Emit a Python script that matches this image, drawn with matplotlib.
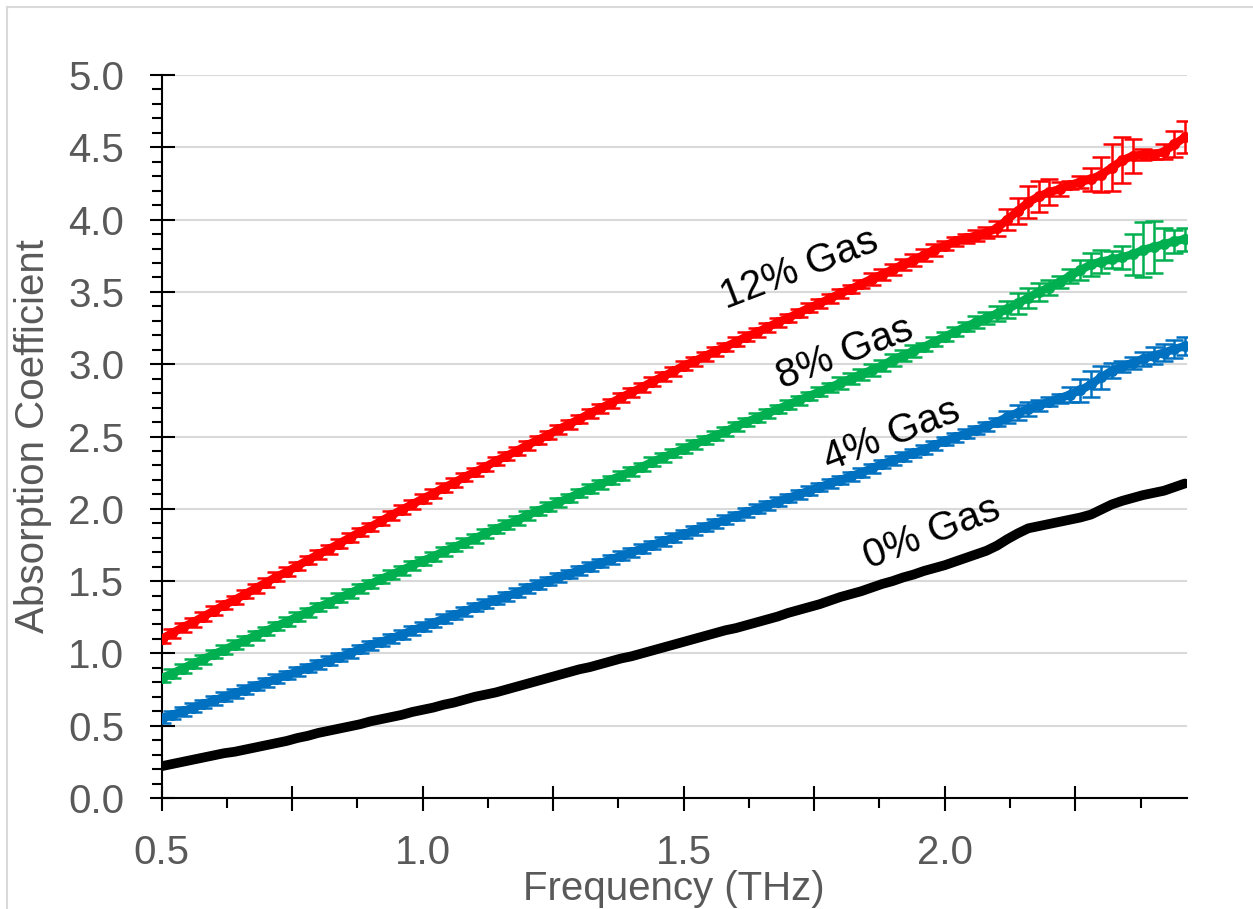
import matplotlib.pyplot as plt
import numpy as np
from matplotlib.lines import Line2D

plt.rcParams["font.family"] = ["Liberation Sans", "DejaVu Sans"]

# frequency grid (THz), one point every 0.02 THz
freq = np.round(np.linspace(0.50, 2.46, 99), 2)

# absorption coefficient, 0 % gas
gas_0 = [
    0.22, 0.235, 0.25, 0.265, 0.28, 0.295, 0.31, 0.32, 0.335, 0.35,
    0.365, 0.38, 0.395, 0.415, 0.43, 0.45, 0.465, 0.48, 0.495, 0.51,
    0.53, 0.545, 0.56, 0.575, 0.595, 0.61, 0.625, 0.645, 0.66, 0.68,
    0.70, 0.715, 0.73, 0.75, 0.77, 0.79, 0.81, 0.83, 0.85, 0.87,
    0.89, 0.905, 0.925, 0.945, 0.965, 0.98, 1.00, 1.02, 1.04, 1.06,
    1.08, 1.10, 1.12, 1.14, 1.16, 1.175, 1.195, 1.215, 1.235, 1.255,
    1.28, 1.30, 1.32, 1.34, 1.365, 1.39, 1.41, 1.43, 1.455, 1.48,
    1.50, 1.525, 1.545, 1.57, 1.59, 1.61, 1.635, 1.66, 1.685, 1.71,
    1.745, 1.79, 1.83, 1.865, 1.88, 1.895, 1.91, 1.925, 1.94, 1.96,
    1.995, 2.03, 2.055, 2.075, 2.095, 2.11, 2.125, 2.15, 2.175,
]

# 4 % gas
gas_4 = [
    0.55, 0.575, 0.60, 0.625, 0.65, 0.675, 0.70, 0.725, 0.75, 0.775,
    0.80, 0.825, 0.85, 0.875, 0.90, 0.925, 0.95, 0.975, 1.00, 1.03,
    1.055, 1.08, 1.105, 1.13, 1.16, 1.185, 1.21, 1.24, 1.265, 1.29,
    1.32, 1.345, 1.37, 1.395, 1.42, 1.45, 1.475, 1.50, 1.525, 1.55,
    1.575, 1.60, 1.625, 1.65, 1.675, 1.70, 1.725, 1.75, 1.775, 1.80,
    1.825, 1.85, 1.875, 1.90, 1.925, 1.95, 1.975, 2.00, 2.025, 2.05,
    2.075, 2.10, 2.125, 2.15, 2.175, 2.20, 2.225, 2.25, 2.28, 2.31,
    2.335, 2.36, 2.385, 2.41, 2.44, 2.47, 2.495, 2.52, 2.545, 2.57,
    2.60, 2.635, 2.665, 2.69, 2.715, 2.74, 2.765, 2.79, 2.82, 2.86,
    2.91, 2.955, 2.985, 3.01, 3.035, 3.06, 3.08, 3.105, 3.125,
]
gas_4_err = [
    0.03, 0.03, 0.03, 0.03, 0.03, 0.03, 0.03, 0.03, 0.03, 0.03,
    0.03, 0.03, 0.03, 0.03, 0.03, 0.03, 0.03, 0.03, 0.03, 0.03,
    0.03, 0.03, 0.03, 0.03, 0.03, 0.03, 0.03, 0.03, 0.03, 0.03,
    0.03, 0.03, 0.03, 0.03, 0.03, 0.03, 0.03, 0.03, 0.03, 0.03,
    0.03, 0.03, 0.03, 0.03, 0.03, 0.03, 0.03, 0.03, 0.03, 0.03,
    0.03, 0.03, 0.03, 0.03, 0.03, 0.03, 0.03, 0.03, 0.03, 0.03,
    0.03, 0.03, 0.03, 0.03, 0.03, 0.03, 0.03, 0.03, 0.03, 0.03,
    0.03, 0.03, 0.03, 0.03, 0.03, 0.03, 0.03, 0.03, 0.03, 0.03,
    0.03, 0.04, 0.05, 0.05, 0.04, 0.03, 0.03, 0.05, 0.08, 0.09,
    0.08, 0.05, 0.04, 0.04, 0.05, 0.06, 0.06, 0.06, 0.06,
]

# 8 % gas
gas_8 = [
    0.83, 0.86, 0.895, 0.93, 0.96, 0.995, 1.025, 1.06, 1.09, 1.125,
    1.155, 1.19, 1.22, 1.255, 1.285, 1.32, 1.35, 1.385, 1.415, 1.45,
    1.48, 1.515, 1.545, 1.575, 1.61, 1.64, 1.67, 1.705, 1.735, 1.765,
    1.795, 1.83, 1.86, 1.89, 1.92, 1.955, 1.985, 2.015, 2.045, 2.075,
    2.11, 2.14, 2.17, 2.20, 2.23, 2.26, 2.29, 2.325, 2.355, 2.385,
    2.415, 2.445, 2.475, 2.505, 2.535, 2.57, 2.60, 2.63, 2.66, 2.69,
    2.72, 2.75, 2.78, 2.81, 2.84, 2.87, 2.90, 2.93, 2.96, 2.99,
    3.03, 3.06, 3.09, 3.12, 3.155, 3.19, 3.225, 3.26, 3.29, 3.32,
    3.35, 3.38, 3.42, 3.46, 3.50, 3.53, 3.57, 3.61, 3.65, 3.69,
    3.71, 3.725, 3.74, 3.76, 3.79, 3.81, 3.83, 3.85, 3.865,
]
gas_8_err = [
    0.03, 0.03, 0.03, 0.03, 0.03, 0.03, 0.03, 0.03, 0.03, 0.03,
    0.03, 0.03, 0.03, 0.03, 0.03, 0.03, 0.03, 0.03, 0.03, 0.03,
    0.03, 0.03, 0.03, 0.03, 0.03, 0.03, 0.03, 0.03, 0.03, 0.03,
    0.03, 0.03, 0.03, 0.03, 0.03, 0.03, 0.03, 0.03, 0.03, 0.03,
    0.03, 0.03, 0.03, 0.03, 0.03, 0.03, 0.03, 0.03, 0.03, 0.03,
    0.03, 0.03, 0.03, 0.03, 0.03, 0.03, 0.03, 0.03, 0.03, 0.03,
    0.03, 0.03, 0.03, 0.03, 0.03, 0.04, 0.04, 0.04, 0.04, 0.04,
    0.04, 0.04, 0.04, 0.03, 0.03, 0.03, 0.03, 0.03, 0.04, 0.04,
    0.05, 0.06, 0.07, 0.07, 0.06, 0.05, 0.04, 0.05, 0.07, 0.08,
    0.08, 0.06, 0.08, 0.14, 0.19, 0.18, 0.11, 0.08, 0.08,
]

# 12 % gas
gas_12 = [
    1.10, 1.14, 1.18, 1.215, 1.255, 1.295, 1.335, 1.37, 1.41, 1.45,
    1.49, 1.53, 1.565, 1.605, 1.645, 1.685, 1.72, 1.76, 1.80, 1.84,
    1.875, 1.915, 1.955, 1.995, 2.03, 2.07, 2.105, 2.145, 2.18, 2.22,
    2.255, 2.29, 2.33, 2.365, 2.40, 2.44, 2.475, 2.51, 2.55, 2.585,
    2.62, 2.66, 2.695, 2.73, 2.77, 2.805, 2.84, 2.88, 2.915, 2.95,
    2.99, 3.02, 3.055, 3.09, 3.12, 3.155, 3.19, 3.22, 3.255, 3.29,
    3.32, 3.355, 3.39, 3.42, 3.455, 3.49, 3.52, 3.555, 3.59, 3.62,
    3.655, 3.69, 3.72, 3.755, 3.79, 3.82, 3.85, 3.87, 3.89, 3.91,
    3.94, 4.00, 4.06, 4.12, 4.16, 4.19, 4.21, 4.24, 4.26, 4.28,
    4.31, 4.36, 4.41, 4.44, 4.45, 4.45, 4.47, 4.52, 4.57,
]
gas_12_err = [
    0.03, 0.03, 0.03, 0.03, 0.03, 0.03, 0.03, 0.03, 0.03, 0.03,
    0.03, 0.03, 0.03, 0.03, 0.03, 0.03, 0.03, 0.03, 0.03, 0.03,
    0.03, 0.03, 0.03, 0.03, 0.03, 0.03, 0.03, 0.03, 0.03, 0.03,
    0.03, 0.03, 0.03, 0.03, 0.03, 0.03, 0.03, 0.03, 0.03, 0.03,
    0.03, 0.03, 0.03, 0.03, 0.03, 0.03, 0.03, 0.03, 0.03, 0.03,
    0.03, 0.03, 0.03, 0.03, 0.03, 0.03, 0.03, 0.03, 0.03, 0.03,
    0.03, 0.03, 0.03, 0.03, 0.03, 0.03, 0.03, 0.03, 0.04, 0.04,
    0.04, 0.04, 0.04, 0.04, 0.04, 0.03, 0.03, 0.03, 0.04, 0.04,
    0.05, 0.07, 0.09, 0.11, 0.11, 0.09, 0.05, 0.03, 0.04, 0.08,
    0.12, 0.16, 0.16, 0.12, 0.04, 0.03, 0.05, 0.09, 0.11,
]

labels = ["0% Gas", "4% Gas", "8% Gas", "12% Gas"]
label_x = [1.976, 1.899, 1.809, 1.722]
label_y = [1.83, 2.51, 3.08, 3.66]

x_major = [0.5, 0.75, 1.0, 1.25, 1.5, 1.75, 2.0, 2.25]
x_major_labels = ["0.5", "", "1.0", "", "1.5", "", "2.0", ""]
x_minor = [0.625, 0.875, 1.125, 1.375, 1.625, 1.875, 2.125, 2.375]
y_major = [0.0, 0.5, 1.0, 1.5, 2.0, 2.5, 3.0, 3.5, 4.0, 4.5, 5.0]

grey_text = "#595959"
grid_col = "#D9D9D9"

fig = plt.figure(figsize=(12.53, 9.09), dpi=100)
ax = fig.add_axes((0.129, 0.1221, 0.8183, 0.7954))

ax.plot(freq, gas_0, color="k", lw=7, solid_capstyle="round", zorder=3)

series = [
    (gas_4, gas_4_err, "#0070C0"),
    (gas_8, gas_8_err, "#00B050"),
    (gas_12, gas_12_err, "#FF0000"),
]
for vals, err, col in series:
    ax.errorbar(
        freq,
        vals,
        yerr=err,
        fmt="o-",
        color=col,
        lw=6,
        ms=7,
        elinewidth=1.8,
        capsize=6.5,
        capthick=1.8,
        zorder=3,
    )

for text, lx, ly in zip(labels, label_x, label_y):
    ax.text(
        lx,
        ly,
        text,
        rotation=21,
        rotation_mode="anchor",
        ha="center",
        va="center",
        fontsize=29,
        color="k",
    )

ax.set_xlim(0.5, 2.464)
ax.set_ylim(0, 5)

ax.set_xticks(x_major, x_major_labels)
ax.set_xticks(x_minor, minor=True)
ax.set_yticks(y_major, [f"{v:.1f}" for v in y_major])
ax.yaxis.set_minor_locator(plt.MultipleLocator(0.1))

ax.tick_params(
    which="major",
    direction="inout",
    length=18,
    width=1.5,
    color="k",
    labelsize=29,
    labelcolor=grey_text,
)
ax.tick_params(axis="x", which="major", pad=17)
ax.tick_params(axis="y", which="major", pad=18)
ax.tick_params(which="minor", direction="out", length=7, width=1.5, color="k")

for side in ["top", "right"]:
    ax.spines[side].set_visible(False)
for side in ["left", "bottom"]:
    ax.spines[side].set_linewidth(1.5)
    ax.spines[side].set_color("k")

ax.grid(axis="y", which="major", color=grid_col, lw=1.5)
ax.set_axisbelow(True)

ax.set_xlabel("Frequency (THz)", fontsize=29, color=grey_text)
ax.set_ylabel("Absorption Coefficient", fontsize=29, color=grey_text)
ax.xaxis.set_label_coords(0.5, -0.1)
ax.yaxis.set_label_coords(-0.107, 0.5)

# thin chart-area frame along the top and left edges
fig.add_artist(Line2D([0.0056, 0.0056], [0.0, 0.9923], transform=fig.transFigure,
                      color=grid_col, lw=1.5))
fig.add_artist(Line2D([0.0056, 1.0], [0.9923, 0.9923], transform=fig.transFigure,
                      color=grid_col, lw=1.5))

fig.savefig("out.png", dpi=100)
